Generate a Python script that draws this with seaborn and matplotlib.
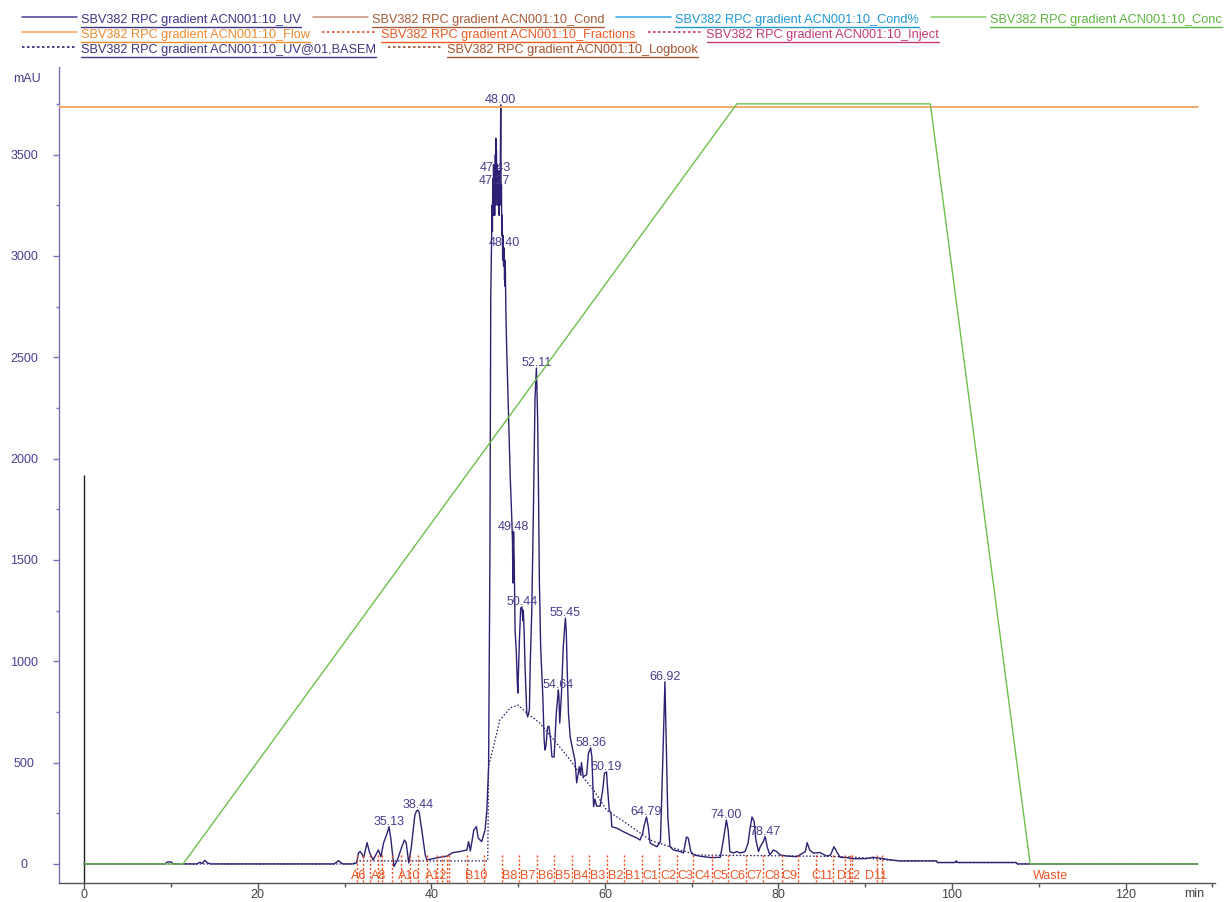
import matplotlib
matplotlib.use("Agg")
import matplotlib.pyplot as plt
from matplotlib.lines import Line2D
from matplotlib.ticker import MultipleLocator
import pandas as pd
import seaborn as sns

# ---------------------------------------------------------------- data
# UV absorbance trace (retention time in min, absorbance in mAU)
uv_time = [0.0, 9.3, 9.6, 10.0, 10.3, 13.0, 13.3, 13.6, 13.9, 14.2, 14.6, 28.8, 29.3, 29.8,
           31.0, 31.4, 31.6, 31.8, 32.0, 32.2, 32.6, 32.9, 33.3, 33.9, 34.2, 34.5, 34.9,
           35.13, 35.35, 35.6, 35.7, 36.1, 36.6, 36.9, 37.1, 37.4, 37.7, 38.1, 38.3, 38.44,
           38.6, 38.9, 39.3, 39.5, 40.2, 41.0, 41.8, 42.5, 43.3, 44.1, 44.3, 44.5, 44.9,
           45.2, 45.4, 45.8, 46.2, 46.4, 46.6, 46.75, 46.85, 46.95,
           47.00, 47.04, 47.08, 47.12, 47.17, 47.22, 47.24, 47.27, 47.30, 47.33, 47.38,
           47.40, 47.43, 47.47, 47.50, 47.54, 47.58, 47.62, 47.67, 47.72, 47.77, 47.82,
           47.87, 47.92, 47.96, 48.00, 48.04, 48.08, 48.12, 48.17, 48.22, 48.27, 48.32,
           48.36, 48.40, 48.44, 48.47, 48.50, 48.53, 48.56, 48.60, 48.7, 48.9, 49.1,
           49.25, 49.35, 49.40, 49.44, 49.48, 49.55,
           49.65, 49.8, 49.9, 49.97, 50.15, 50.3, 50.44, 50.55, 50.6, 50.7, 50.8, 51.0,
           51.1, 51.3, 51.4, 51.57, 51.76, 51.95, 52.11, 52.25, 52.35, 52.45, 52.6, 52.85,
           53.0, 53.1, 53.2, 53.4, 53.55, 53.75, 53.9, 54.15, 54.4, 54.64, 54.7, 54.8,
           55.0, 55.2, 55.45, 55.55, 55.65, 55.8, 56.0, 56.3, 56.55, 56.75, 56.9, 57.05,
           57.2, 57.3, 57.5, 57.9, 58.1, 58.36, 58.5, 58.7, 58.85, 59.05, 59.45, 59.75,
           59.95, 60.19, 60.3, 60.5, 60.7, 60.8, 61.35, 62.1, 62.9, 63.7, 64.05, 64.35,
           64.5, 64.79, 65.0, 65.2, 65.4, 66.0, 66.4, 66.65, 66.92, 67.05, 67.25, 67.5,
           67.9, 68.7, 69.05, 69.4, 69.6, 69.9, 70.2, 71.0, 72.3, 73.3, 73.65, 74.0, 74.2,
           74.4, 74.8, 75.2, 75.6, 76.15, 76.5, 76.7, 76.95, 77.2, 77.4, 77.7, 77.9, 78.25,
           78.47, 78.7, 79.0, 79.4, 79.8, 80.2, 81.0, 82.1, 83.1, 83.3, 83.6, 84.0, 84.8,
           85.55, 86.0, 86.4, 86.8, 87.1, 87.9, 88.6, 90.1, 90.9, 92.1, 92.85, 94.0, 98.2,
           98.3, 100.3, 100.5, 100.7, 107.4, 107.5, 128.3]
uv_mau = [0, 0, 10, 10, 0, 0, 8, 3, 18, 5, 0, 0, 16, 0,
          0, 5, 54, 61, 50, 30, 105, 54, 20, 69, 36, 104, 150,
          184, 120, 20, -13, 20, 85, 118, 105, 5, 85, 240, 262, 266,
          255, 168, 44, 20, 26, 33, 39, 56, 61, 69, 110, 64, 168,
          184, 128, 110, 168, 266, 480, 1500, 2800, 3093,
          3250, 3120, 3380, 3200, 3450, 3250, 3240, 3345, 3200, 3330, 3500,
          3250, 3581, 3280, 3520, 3300, 3450, 3250, 3400, 3280, 3420, 3200,
          3350, 3260, 3500, 3745, 3250, 3350, 3100, 3200, 2980, 3100, 2950,
          2960, 3039, 2880, 2980, 2850, 2940, 2830, 2700, 2520, 2200, 1900,
          1731, 1600, 1386, 1550, 1639, 1500,
          1154, 1040, 908, 843, 1105, 1263, 1268, 1200, 1253, 1140, 972, 745,
          725, 760, 992, 1238, 1731, 2300, 2447, 2200, 1845, 1401, 1070, 824,
          612, 562, 580, 676, 680, 612, 528, 528, 745, 858, 824, 695,
          843, 1070, 1213, 1150, 972, 745, 627, 562, 513, 400, 440, 480,
          440, 500, 430, 440, 545, 572, 530, 283, 320, 285, 285, 365,
          447, 454, 380, 266, 250, 184, 177, 160, 143, 128, 118, 150,
          184, 232, 184, 104, 98, 85, 110, 480, 899, 646, 233, 85,
          69, 61, 54, 133, 128, 61, 45, 38, 31, 33, 118, 217, 168,
          61, 54, 61, 54, 61, 103, 168, 232, 209, 118, 61, 85, 110,
          135, 85, 44, 69, 61, 44, 39, 36, 61, 105, 69, 54, 56,
          39, 44, 85, 54, 33, 31, 26, 26, 33, 26, 20, 15, 15,
          7, 7, 15, 7, 7, 0, 0]

# Baseline estimate (UV@01,BASEM)
basem_time = [0.0, 31.0, 31.4, 46.5, 46.6, 47.9, 49.1, 50.0, 51.0, 52.5, 54.8, 56.0, 57.1,
              58.7, 60.2, 62.5, 65.2, 67.9, 70.6, 75.0, 80.0, 85.0, 88.0, 90.0, 92.0, 94.0,
              98.2, 98.3, 107.4, 107.5, 128.3]
basem_mau = [0, 0, 15, 15, 480, 710, 770, 784, 745, 695, 577, 513, 447,
             365, 266, 200, 118, 79, 44, 42, 40, 38, 35, 30, 22, 15,
             15, 7, 7, 0, 0]

# Gradient (concentration of B, %) and flow (scaled on the same axis)
conc_time = [0.0, 11.4, 75.2, 97.5, 109.0, 128.3]
conc_pct = [0, 0, 100, 100, 0, 0]
flow_time = [-2.9, 128.3]
flow_scaled = [99.6, 99.6]

# Injection mark
inject_time = 0.0
inject_mau = 1920

# Fraction boundaries and the fraction names that are printed
frac_time = [31.42, 32.18, 32.95, 33.84, 34.37, 35.52, 36.52, 37.56, 38.51, 39.48, 40.63,
             41.28, 41.78, 42.05, 44.09, 46.12, 48.19, 50.12, 52.16, 54.19, 56.26, 58.18,
             60.22, 62.25, 64.25, 66.24, 68.28, 70.19, 72.31, 74.22, 76.23, 78.26, 80.38,
             82.22, 84.29, 86.33, 87.67, 88.25, 88.44, 91.32, 91.90]
frac_names = ["A6", "A8", "A10", "A12", "B10", "B8", "B7", "B6", "B5", "B4", "B3", "B2",
              "B1", "C1", "C2", "C3", "C4", "C5", "C6", "C7", "C8", "C9", "C11", "D12", "D11"]
frac_name_time = [31.62, 33.93, 37.5, 40.55, 45.16, 49.08, 51.15, 53.17, 55.18, 57.2, 59.22,
                  61.23, 63.25, 65.2, 67.28, 69.24, 71.26, 73.27, 75.23, 77.25, 79.26, 81.28,
                  85.08, 88.1, 91.3]
waste_name = "Waste"
waste_time = 111.3

# Integrated peaks: retention time (min) and height (mAU)
peak_time = [35.13, 38.44, 47.27, 47.43, 48.00, 48.40, 49.48, 50.44, 52.11, 54.64, 55.45,
             58.36, 60.19, 64.79, 66.92, 74.00, 78.47]
peak_mau = [184, 266, 3345, 3581, 3745, 3039, 1639, 1268, 2447, 858, 1213,
            572, 454, 232, 899, 217, 135]

legend_rows = [
    [("SBV382 RPC gradient ACN001:10_UV", "#5A4E9E", "-", "#3E3585"),
     ("SBV382 RPC gradient ACN001:10_Cond", "#C99A80", "-", "#A65A38"),
     ("SBV382 RPC gradient ACN001:10_Cond%", "#3DB0E3", "-", "#1E98D8"),
     ("SBV382 RPC gradient ACN001:10_Conc", "#8FD173", "-", "#5DB43E")],
    [("SBV382 RPC gradient ACN001:10_Flow", "#F6A864", "-", "#F08A2C"),
     ("SBV382 RPC gradient ACN001:10_Fractions", "#EE5020", ":", "#EC5A22"),
     ("SBV382 RPC gradient ACN001:10_Inject", "#C8326E", ":", "#C23A78")],
    [("SBV382 RPC gradient ACN001:10_UV@01,BASEM", "#2A2070", ":", "#3E3585"),
     ("SBV382 RPC gradient ACN001:10_Logbook", "#9A4A2A", ":", "#A5532E")],
]

# ---------------------------------------------------------------- style
sns.set_theme(style="white")
plt.rcParams["font.family"] = ["Liberation Sans", "DejaVu Sans"]
plt.rcParams["font.size"] = 9

W, H = 1226, 902
fig = plt.figure(figsize=(W / 100, H / 100), dpi=100)
ax = fig.add_axes([59 / W, 1 - 883 / H, (1215 - 59) / W, (883 - 67) / H])

UV_COLOR = "#2D2173"
PURPLE_TXT = "#4B3C8F"
XMIN, XMAX = -2.9, 130.3
YMIN, YMAX = -94, 3932
CONC_SCALE = 37.5  # mAU per % of B on the drawing

uv = pd.DataFrame({"time": uv_time, "mAU": uv_mau})
base = pd.DataFrame({"time": basem_time, "mAU": basem_mau})

# injection mark
ax.vlines(inject_time, YMIN, inject_mau, color="#222222", lw=1.0, zorder=2)

# baseline and UV trace
sns.lineplot(data=base, x="time", y="mAU", ax=ax, sort=False, estimator=None,
             color="#1E1660", lw=0.9, linestyle=(0, (1.2, 1.6)), zorder=3)
sns.lineplot(data=uv, x="time", y="mAU", ax=ax, sort=False, estimator=None,
             color=UV_COLOR, lw=1.0, zorder=4)

# fraction marks
ax.vlines(frac_time, -90, 50, colors="#F04E1E", lw=1.0, linestyles=(0, (1.5, 1.5)), zorder=5)
for name, t in zip(frac_names, frac_name_time):
    ax.text(t, -57, name, color="#EE5522", fontsize=9, ha="center", va="center", zorder=6)
ax.text(waste_time, -57, waste_name, color="#EE5522", fontsize=9, ha="center", va="center")

# peak labels
label_shift = {47.43: -33}
for t, v in zip(peak_time, peak_mau):
    ax.annotate(f"{t:.2f}", (t, v), xytext=(0, label_shift.get(t, 2)),
                textcoords="offset pixels", ha="center", va="baseline",
                color=PURPLE_TXT, fontsize=9, zorder=7)

ax.set_xlim(XMIN, XMAX)
ax.set_ylim(YMIN, YMAX)
ax.set_xlabel("")
ax.set_ylabel("")

# gradient and flow on a second scale (% B)
ax2 = ax.twinx()
conc = pd.DataFrame({"time": conc_time, "pct": conc_pct})
flow = pd.DataFrame({"time": flow_time, "pct": flow_scaled})
sns.lineplot(data=flow, x="time", y="pct", ax=ax2, sort=False, estimator=None,
             color="#F5A460", lw=1.3)
sns.lineplot(data=conc, x="time", y="pct", ax=ax2, sort=False, estimator=None,
             color="#6CC04A", lw=1.0)
ax2.set_ylim(YMIN / CONC_SCALE, YMAX / CONC_SCALE)
ax2.set_xlim(XMIN, XMAX)
ax2.set_ylabel("")
ax2.set_yticks([])
for s in ax2.spines.values():
    s.set_visible(False)

# axes styling
for side in ("top", "right"):
    ax.spines[side].set_visible(False)
ax.spines["left"].set_color("#7D70B5")
ax.spines["bottom"].set_color("#555555")
ax.spines["left"].set_linewidth(1.0)
ax.spines["bottom"].set_linewidth(1.0)

ax.xaxis.set_major_locator(MultipleLocator(20))
ax.xaxis.set_minor_locator(MultipleLocator(10))
ax.yaxis.set_major_locator(MultipleLocator(500))
ax.yaxis.set_minor_locator(MultipleLocator(250))
ax.tick_params(axis="x", which="major", direction="out", length=4, width=1,
               color="#555555", labelcolor="#444444", labelsize=9, pad=0.5, bottom=True)
ax.tick_params(axis="x", which="minor", direction="out", length=3, width=1,
               color="#555555", bottom=True)
ax.tick_params(axis="y", which="major", direction="out", length=4, width=1,
               color="#7D70B5", labelcolor=PURPLE_TXT, labelsize=9, pad=21, left=True)
ax.tick_params(axis="y", which="minor", direction="out", length=2, width=1,
               color="#7D70B5", left=True)
for lab in ax.get_yticklabels():
    lab.set_horizontalalignment("center")

fig.text(27 / W, 1 - 79 / H, "mAU", color=PURPLE_TXT, fontsize=9, ha="center", va="center")
fig.text(1194 / W, 1 - 894 / H, "min", color="#444444", fontsize=9, ha="center", va="center")

# header legend with underlined entries
fig.canvas.draw()
renderer = fig.canvas.get_renderer()
for row_y, entries in zip((20, 35, 50), legend_rows):
    x = 22
    for label, lcolor, ls, tcolor in entries:
        lstyle = "-" if ls == "-" else (0, (1.5, 1.5))
        fig.add_artist(Line2D([x / W, (x + 55) / W], [1 - (row_y - 3) / H] * 2,
                              color=lcolor, lw=1.2, linestyle=lstyle,
                              transform=fig.transFigure))
        txt = fig.text((x + 59) / W, 1 - row_y / H, label, color=tcolor, fontsize=9.15,
                       ha="left", va="center")
        bb = txt.get_window_extent(renderer)
        fig.add_artist(Line2D([bb.x0 / W, bb.x1 / W], [1 - (row_y + 7) / H] * 2,
                              color=tcolor, lw=1.0, transform=fig.transFigure))
        x = bb.x1 + 12

fig.savefig("out.png", dpi=100)
